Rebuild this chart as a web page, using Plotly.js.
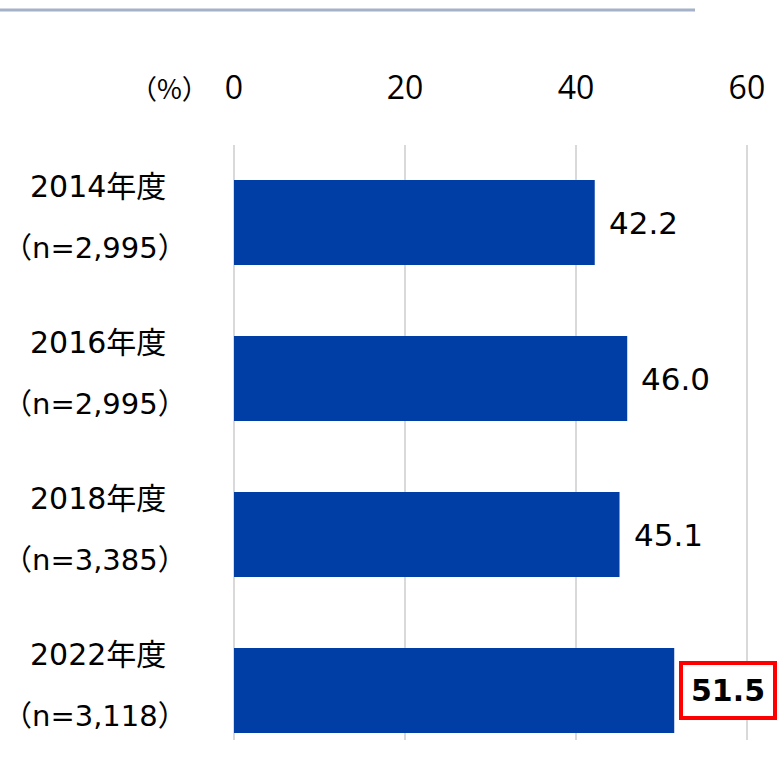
<!DOCTYPE html>
<html><head><meta charset="utf-8">
<script src="https://cdn.plot.ly/plotly-3.0.1.min.js"></script>
<style>body{margin:0;background:#fff}#c{width:778px;height:771px}</style>
</head><body><div id="c"></div>
<script>
const years = ["2014年度","2016年度","2018年度","2022年度"];
const samples = ["（n=2,995）","（n=2,995）","（n=3,385）","（n=3,118）"];
const values = [42.2, 46.0, 45.1, 51.5];
const valueLabels = ["42.2","46.0","45.1","51.5"];
const tickVals = [0,20,40,60];
const tickText = ["0","20","40","60"];

const pos = years.map((_, i) => i);
const annotations = [];
years.forEach((y, i) => {
  annotations.push({xref:"paper", yref:"y", x:-0.257, y:pos[i], yshift:36, text:y, showarrow:false, xanchor:"center", yanchor:"middle",
    font:{family: "DejaVu Sans, Noto Sans CJK JP, sans-serif", size: 30, color: "#000"}});
  annotations.push({xref:"paper", yref:"y", x:-0.262, y:pos[i], yshift:-25, text:samples[i], showarrow:false, xanchor:"center", yanchor:"middle",
    font:{family: "DejaVu Sans, Noto Sans CJK JP, sans-serif", size: 29, color: "#000"}});
  const last = i === years.length - 1;
  annotations.push({xref:"x", yref:"y", x:values[i], y:pos[i], xshift: last ? 5 : 14, text: last ? "<b>"+valueLabels[i]+"</b>" : valueLabels[i],
    showarrow:false, xanchor:"left", yanchor:"middle",
    font:{family:"DejaVu Sans, sans-serif", size: last ? 30 : 31, color:"#000"},
    bordercolor: last ? "#ff0000" : "rgba(0,0,0,0)", borderwidth: last ? 4 : 0, borderpad: last ? 8 : 0,
    bgcolor: last ? "#fff" : "rgba(0,0,0,0)"});
});
annotations.push({xref:"paper", yref:"paper", x:-0.1208, y:1.0 + (145-88)/595, text:"（%）", showarrow:false, xanchor:"center", yanchor:"middle", font:{family:"Noto Sans CJK JP, sans-serif", size:27, color:"#000"}});

const data = [{
  type:"bar", orientation:"h", x: values, y: pos,
  marker:{color:"#003DA5", line:{width:0}}, width:0.545, hoverinfo:"skip"
}];
const layout = {
  width:778, height:771, margin:{l:234, r:14, t:145, b:31},
  paper_bgcolor:"#fff", plot_bgcolor:"#fff", showlegend:false,
  xaxis:{range:[0,62], side:"top", tickvals:tickVals, ticktext:tickText, showgrid:true, gridcolor:"#d9d9d9", gridwidth:2,
    zeroline:true, zerolinecolor:"#d9d9d9", zerolinewidth:2, showline:false, ticks:"outside", ticklen:32, tickcolor:"rgba(0,0,0,0)",
    tickfont:{family:"Open Sans, sans-serif", size:32, color:"#000"}, fixedrange:true},
  yaxis:{range:[3.317,-0.497], showticklabels:false, showgrid:false, zeroline:false, showline:false, fixedrange:true},
  annotations: annotations,
  shapes:[{type:"line", xref:"paper", yref:"paper", x0:-234/530, x1:(695-234)/530, y0:1+(145-10)/595, y1:1+(145-10)/595, line:{color:"#a3b1c9", width:3}}]
};
Plotly.newPlot("c", data, layout, {displayModeBar:false, staticPlot:true});
</script></body></html>
